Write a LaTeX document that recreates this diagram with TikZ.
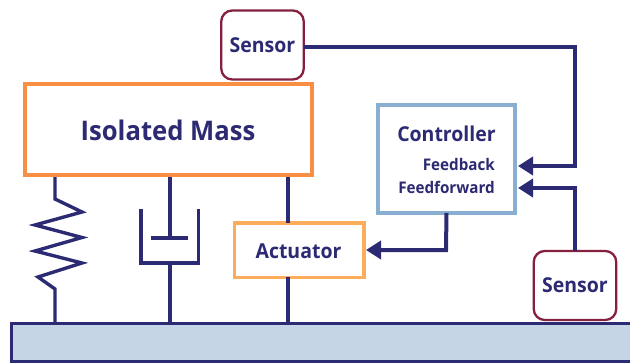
\documentclass[tikz,border=0pt]{standalone}
\usepackage{fontspec}
\setmainfont[FakeStretch=0.95]{Open Sans}
\usetikzlibrary{arrows.meta,calc}
\definecolor{navy}{HTML}{2B2A72}
\definecolor{massor}{HTML}{F98F45}
\definecolor{actor}{HTML}{FBAD5C}
\definecolor{ctrlb}{HTML}{88AFD2}
\definecolor{sensr}{HTML}{85203F}
\definecolor{basef}{HTML}{C5D5E6}
\tikzset{
  x=1pt,y=1pt,
  box/.style={draw,fill=white,outer sep=0pt,inner sep=0pt,text=navy,font=\bfseries},
  mass/.style={box,draw=massor,line width=4pt,minimum width=287pt,minimum height=91pt},
  ctrl/.style={box,draw=ctrlb,line width=4pt,minimum width=137pt,minimum height=108pt},
  act/.style={box,draw=actor,line width=3.5pt,minimum width=129.5pt,minimum height=54.5pt},
  sens/.style={box,draw=sensr,line width=2.3pt,rounded corners=11pt,minimum width=82.5pt,minimum height=69pt,font=\fontsize{20.5}{24}\selectfont\bfseries},
  lab/.style={inner sep=0pt,text=navy,font=\bfseries},
  link/.style={draw=navy,line width=3.4pt,line join=miter},
  wire/.style={draw=navy,line width=4pt,-{Triangle[length=15pt,width=18pt]}}
}
\begin{document}
\begin{tikzpicture}
\useasboundingbox (0,0) rectangle (630,-362);
\node[draw=navy,fill=basef,line width=3pt,outer sep=0pt,inner sep=0pt,minimum width=622pt,minimum height=38pt] (base) at (322.5,-342) {};
\node[mass] (massbox) at (168.5,-129.5) {};
\node[lab,font=\fontsize{27}{30}\selectfont\bfseries] (masslabel) at (168,-130) {Isolated Mass};
\node[sens] (s1) at (262.5,-45) {Sensor};
\node[sens] (s2) at (575,-285.5) {Sensor};
\node[ctrl] (c) at (446.5,-159) {};
\node[lab,font=\fontsize{20.5}{24}\selectfont\bfseries] (ct) at (446.5,-134) {Controller};
\node[lab,anchor=east,font=\fontsize{16}{18}\selectfont\bfseries] (fb) at (495,-164) {Feedback};
\node[lab,anchor=east,font=\fontsize{16}{18}\selectfont\bfseries] (ff) at (495,-187) {Feedforward};
\node[act] (a) at (299,-250) {};
\node[lab,font=\fontsize{20.5}{24}\selectfont\bfseries] (al) at (298.5,-251) {Actuator};
% mount points
\coordinate (m1) at (55,-177);
\coordinate (m2) at (170,-177);
\coordinate (m3) at (288,-177);
\coordinate (b1) at (55,-322);
\coordinate (b2) at (170,-322);
\coordinate (b3) at (288,-322);
% spring
\draw[link] (m1) -- (55,-199) -- (82,-212) -- (35,-225) -- (82,-237.5) -- (35,-251) -- (82,-263) -- (38,-277) -- (55,-289) -- (b1);
% damper
\draw[link] (m2) -- (170,-237.5);
\coordinate (pl) at (151,-237.5);
\coordinate (pr) at (188,-237.5);
\draw[navy,line width=4pt] (pl) -- (pr);
\coordinate (cl) at (141,-209);
\coordinate (cr) at (198.5,-209);
\draw[link] (cl) -- (141,-263) -- (198.5,-263) -- (cr);
\draw[link] (170,-263) -- (b2);
% actuator
\draw[link] (m3) -- (a.north -| m3);
\draw[link] (a.south -| m3) -- (b3);
% signals
\coordinate (i1) at (518,-166);
\coordinate (i2) at (518,-188);
\coordinate (i3) at (366,-250);
\draw[wire] (s1.east |- 0,-47) -- (575,-47) -- (575,-166) -- (i1);
\draw[wire] (s2.north) -- (575,-188) -- (i2);
\draw[wire] (c.south) -- (446,-250) -- (i3);
\end{tikzpicture}
\end{document}
